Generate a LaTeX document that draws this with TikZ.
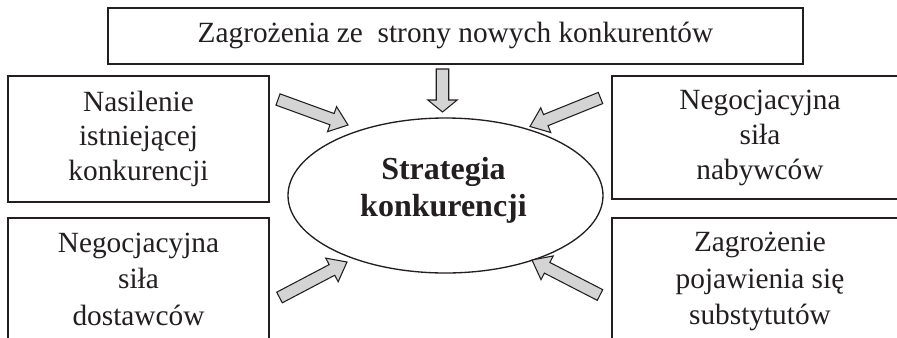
\documentclass[tikz,border=0pt]{standalone}
\usepackage{fontspec}
\setmainfont{Liberation Serif}
\usetikzlibrary{shapes.geometric,calc}
\definecolor{ink}{HTML}{231F20}
\definecolor{arrgray}{RGB}{212,212,212}
\newcommand\blkarrow[5]{%
  \coordinate (#1-j) at ($(#2)!#5!(#1)$);
  \draw[blockarr] ($(#1)!#3!90:(#2)$) -- ($(#1-j)!#3!90:(#2)$) -- ($(#1-j)!#4!90:(#2)$) -- (#2)
    -- ($(#1-j)!#4!-90:(#2)$) -- ($(#1-j)!#3!-90:(#2)$) -- ($(#1)!#3!-90:(#2)$) -- cycle;}
\tikzset{
  box/.style={draw=ink, line width=1.3pt, rectangle, inner sep=0pt, align=center,
    text=ink, font=\fontsize{22}{26}\selectfont},
  boxlow/.style={box, font=\fontsize{22}{27.4}\selectfont},
  ell/.style={draw=ink, line width=1pt, ellipse, inner sep=0pt},
  boldtext/.style={align=center, text=ink, font=\fontsize{24}{27.75}\selectfont\bfseries},
  blockarr/.style={draw=ink, line width=0.8pt, fill=arrgray, line join=miter}
}
\begin{document}
\begin{tikzpicture}[x=0.75pt,y=0.75pt]
\clip (0,0) rectangle (897,-337);
\fill[white] (0,0) rectangle (897,-337);
% boxes
\node[box, minimum width=521.25pt, minimum height=42pt] (top) at (455.5,-36)
  {\strut Zagrożenia ze\ \ strony nowych konkurentów\strut};
\node[box, minimum width=195.75pt, minimum height=94.5pt] (lt) at (138.5,-139)
  {\strut Nasilenie\\istniejącej\\konkurencji\strut};
\node[boxlow, minimum width=195.75pt, minimum height=95.25pt] (lb) at (138.5,-281.5)
  {\strut Negocjacyjna\\siła\\dostawców\strut};
\node[box, minimum width=222pt, minimum height=92.25pt] (rt) at (760,-137.5)
  {\strut Negocjacyjna\\siła\\nabywców\strut};
\node[boxlow, minimum width=222pt, minimum height=94.5pt] (rb) at (760,-281)
  {\strut Zagrożenie\\pojawienia się\\substytutów\strut};
% ellipse
\node[ell, minimum width=236.25pt, minimum height=116.25pt] (ell) at (445.5,-195.5) {};
\node[boldtext] (title) at (443.5,-191) {\strut Strategia\\konkurencji\strut};
% arrows
\coordinate (aT) at (442.5,-69);  \coordinate (aTh) at (442.5,-112);
\coordinate (aL) at (278,-99.5);  \coordinate (aLh) at (348,-125);
\coordinate (aR) at (600.5,-98);  \coordinate (aRh) at (530,-126.5);
\coordinate (bL) at (279.5,-297.5); \coordinate (bLh) at (347,-262);
\coordinate (bR) at (600,-295);   \coordinate (bRh) at (532,-260);
\blkarrow{aT}{aTh}{4.7pt}{11pt}{9pt}
\blkarrow{aL}{aLh}{4.5pt}{10pt}{12.75pt}
\blkarrow{aR}{aRh}{4.5pt}{10pt}{12.75pt}
\blkarrow{bL}{bLh}{4.5pt}{10pt}{12.75pt}
\blkarrow{bR}{bRh}{4.5pt}{10pt}{12.75pt}
\end{tikzpicture}
\end{document}
